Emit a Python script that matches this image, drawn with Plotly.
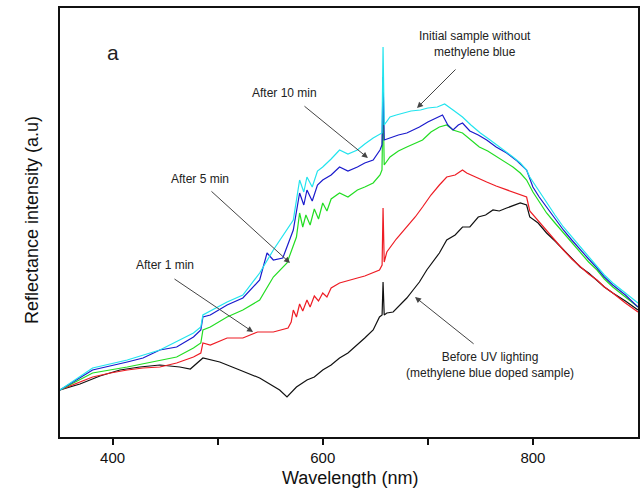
import plotly.graph_objects as go

# Wavelength (nm) / reflectance intensity (a.u., arbitrary scale)
black_x = [350, 369, 388, 407, 426, 445, 464, 474, 486, 502, 521, 540, 559, 566, 575, 585, 592, 600, 608, 616, 624, 633, 640, 648, 654, 656.5, 657.4, 658.5, 661, 667, 674, 680, 686, 692, 699, 705, 711, 718, 726, 733, 740, 748, 755, 762, 768, 775, 781, 788, 794, 797, 805, 813, 821, 829, 837, 845, 853, 861, 868, 876, 888, 900]
black_y = [47, 53, 61, 67, 70, 72, 70, 68, 79, 75, 67, 59, 47, 40, 50, 57, 60, 67, 72, 79, 84, 92, 99, 107, 120, 122, 155, 122, 124, 125, 133, 139, 147, 155, 167, 175, 184, 197, 202, 210, 210, 220, 222, 227, 226, 229, 231, 234, 232, 220, 214, 204, 196, 187, 178, 170, 164, 157, 150, 144, 136, 127]

red_x = [350, 381, 398, 414, 429, 445, 461, 477, 484, 486, 493, 509, 524, 538, 553, 567, 570, 572, 575, 578, 581, 585, 588, 592, 596, 600, 604, 608, 616, 624, 633, 640, 648, 654, 656.5, 657.4, 658.5, 661, 670, 680, 688, 695, 703, 711, 718, 726, 733, 737, 745, 756, 765, 775, 785, 794, 797, 805, 813, 821, 829, 837, 845, 853, 861, 868, 876, 888, 900]
red_y = [47, 60, 64, 67, 69, 70, 74, 80, 84, 94, 92, 99, 99, 105, 105, 109, 115, 127, 120, 133, 126, 137, 130, 141, 136, 144, 140, 149, 154, 156, 159, 161, 164, 167, 172, 229, 175, 185, 198, 210, 220, 230, 242, 252, 260, 262, 267, 264, 260, 255, 251, 247, 243, 240, 226, 216, 207, 197, 187, 178, 170, 163, 157, 150, 144, 134, 125]

green_x = [350, 381, 414, 445, 461, 477, 484, 486, 493, 509, 524, 540, 553, 566, 575, 578, 581, 584, 588, 592, 596, 600, 604, 608, 616, 624, 633, 640, 648, 654.5, 656.4, 657.4, 658.5, 664, 672, 680, 688, 695, 703, 711, 718, 724, 733, 741, 749, 757, 766, 774, 781, 788, 794, 800, 806, 813, 821, 829, 837, 845, 853, 861, 868, 876, 888, 900]
green_y = [47, 64, 70, 77, 80, 89, 94, 107, 110, 120, 127, 137, 160, 174, 200, 224, 210, 222, 212, 228, 218, 234, 226, 238, 244, 240, 247, 250, 254, 262, 267, 340, 272, 280, 286, 290, 294, 297, 305, 310, 312, 307, 304, 297, 290, 286, 280, 275, 270, 264, 257, 245, 235, 224, 214, 204, 194, 184, 175, 167, 158, 150, 140, 130]

blue_x = [350, 381, 414, 429, 445, 461, 477, 484, 486, 493, 509, 524, 540, 547, 553, 562, 572, 578, 582, 585, 590, 595, 600, 608, 616, 624, 633, 640, 648, 654.5, 656.4, 657.4, 658.5, 664, 672, 680, 686, 692, 700, 709, 714, 719, 724, 729, 733, 740, 748, 756, 765, 775, 785, 794, 800, 806, 813, 821, 829, 837, 845, 853, 861, 868, 876, 888, 900]
blue_y = [47, 67, 75, 79, 87, 90, 100, 107, 120, 122, 132, 139, 157, 184, 177, 179, 207, 244, 232, 247, 236, 252, 257, 262, 270, 266, 270, 274, 277, 287, 292, 360, 297, 299, 302, 304, 307, 310, 315, 320, 322, 312, 307, 312, 314, 306, 302, 297, 290, 284, 276, 267, 250, 240, 230, 218, 207, 197, 187, 178, 169, 160, 152, 142, 130]

cyan_x = [350, 381, 414, 445, 477, 484, 486, 509, 524, 540, 553, 572, 578, 582, 585, 590, 595, 600, 608, 616, 624, 633, 640, 648, 656.4, 657.4, 658.5, 664, 670, 676, 684, 693, 700, 709, 716, 724, 733, 741, 750, 758, 766, 774, 781, 788, 794, 797, 805, 813, 821, 829, 837, 845, 853, 861, 868, 876, 888, 900]
cyan_y = [47, 69, 77, 87, 104, 110, 122, 135, 142, 164, 187, 217, 257, 245, 260, 250, 266, 270, 278, 287, 283, 287, 293, 299, 304, 390, 312, 320, 322, 324, 326, 327, 329, 330, 333, 327, 320, 312, 304, 298, 292, 286, 280, 274, 267, 260, 247, 234, 222, 210, 200, 190, 180, 170, 162, 154, 144, 134]

x_tickvals = [400, 500, 600, 700, 800]
x_ticktext = ["400", "", "600", "", "800"]

fig = go.Figure()
for xs, ys, col in [
    (black_x, black_y, "#111111"),
    (red_x, red_y, "#ee1c24"),
    (green_x, green_y, "#22dd22"),
    (blue_x, blue_y, "#1a1acc"),
    (cyan_x, cyan_y, "#22e4ee"),
]:
    fig.add_trace(go.Scatter(x=xs, y=ys, mode="lines", line=dict(color=col, width=1.2),
                             showlegend=False, hoverinfo="skip"))

FONT = "Liberation Sans, Arial, sans-serif"

texts = [
    ("a", 400.4, 385, 21),
    ("After 10 min", 564, 344, 12),
    ("Initial sample without<br>methylene blue", 745, 393, 12),
    ("After 5 min", 483, 258, 12),
    ("After 1 min", 450, 172, 12),
    ("Before UV lighting<br>(methylene blue doped sample)", 759, 72, 12),
]
for t, x, y, s in texts:
    fig.add_annotation(x=x, y=y, xref="x", yref="y", text=t, showarrow=False,
                       font=dict(family=FONT, size=s, color="#222222"))

arrows = [
    (581.2, 332, 643, 279),
    (727.8, 369, 689.7, 329),
    (492.7, 247, 568.9, 174),
    (457.5, 159, 533.7, 105),
    (745, 92, 687.8, 140),
]
for tx, ty, hx, hy in arrows:
    fig.add_annotation(x=hx, y=hy, ax=tx, ay=ty, xref="x", yref="y", axref="x", ayref="y",
                       text="", showarrow=True, arrowhead=2, arrowsize=1.2, arrowwidth=1,
                       arrowcolor="#444444")

# axis titles
fig.add_annotation(x=0.502, y=-0.124, xref="paper", yref="paper", text="Wavelength (nm)",
                   showarrow=False, font=dict(family=FONT, size=18, color="#111111"))
fig.add_annotation(x=-0.069, y=0.506, xref="paper", yref="paper", text="Reflectance intensity (a.u)",
                   showarrow=False, textangle=-90, font=dict(family=FONT, size=18, color="#111111"))

fig.update_layout(
    width=643, height=502,
    margin=dict(l=60, r=5, t=8, b=65, autoexpand=False),
    plot_bgcolor="white", paper_bgcolor="white",
    font=dict(family=FONT, color="#111111"),
    hovermode=False,
    xaxis=dict(range=[350, 900], tickvals=x_tickvals, ticktext=x_ticktext,
               ticks="outside", ticklen=6, tickwidth=1.5, tickcolor="#111",
               showgrid=False, zeroline=False, showline=True, linecolor="#111",
               linewidth=2, mirror=True, tickfont=dict(size=15), automargin=False),
    yaxis=dict(range=[0, 429], showticklabels=False, ticks="", showgrid=False,
               zeroline=False, showline=True, linecolor="#111", linewidth=2, mirror=True,
               automargin=False),
)

fig.write_html("out.html", config={"displayModeBar": False},
               post_script="document.body.style.margin='0';document.body.style.overflow='hidden';")
